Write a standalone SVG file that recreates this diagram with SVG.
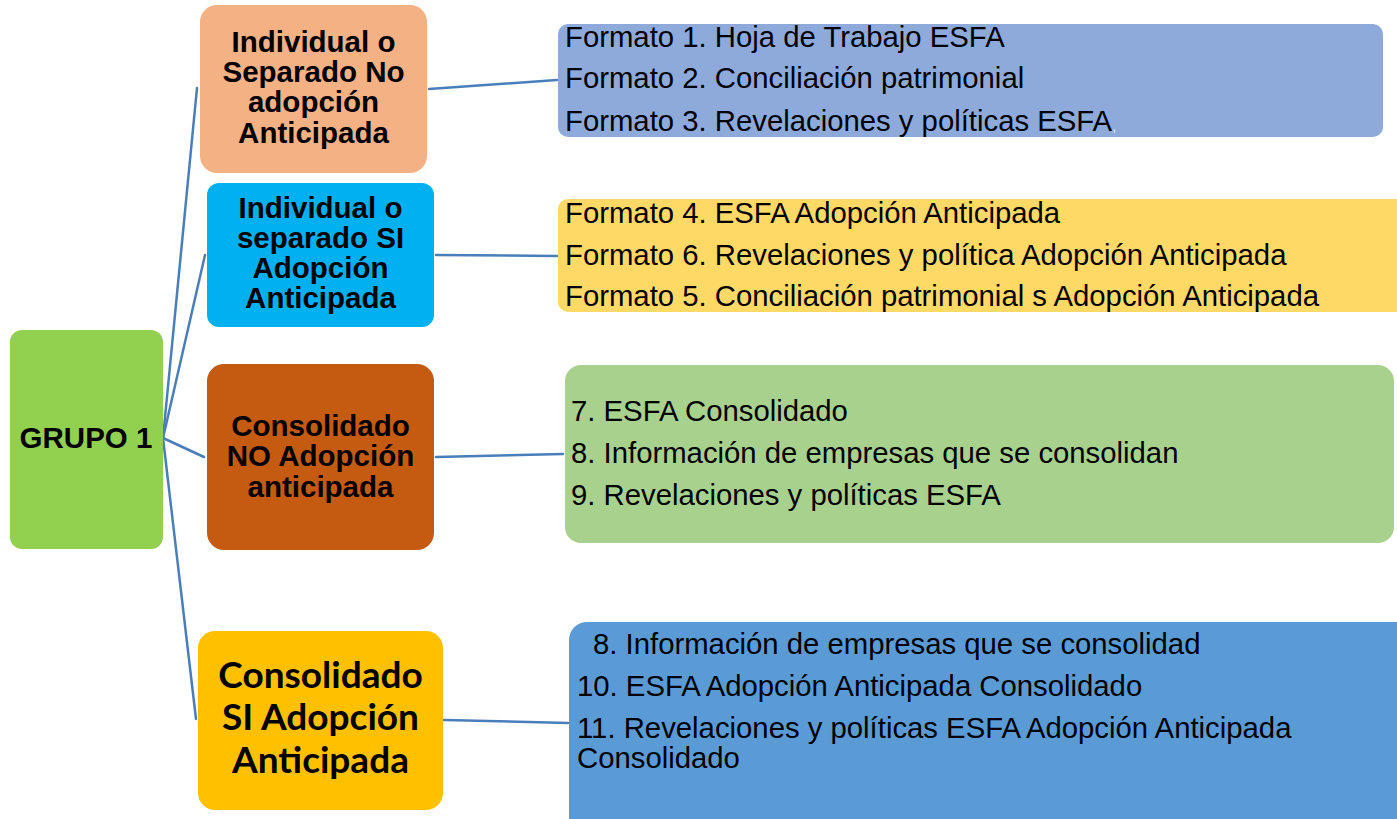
<svg xmlns="http://www.w3.org/2000/svg" width="1397" height="819" viewBox="0 0 1397 819">
<style>
.hb{font-family:"Liberation Sans",Arial,sans-serif;font-weight:bold;font-size:29.5px;fill:#000;text-anchor:middle}
.cb{font-family:Lato,"Noto Sans",sans-serif;font-weight:bold;font-size:37px;fill:#000;text-anchor:middle}
.t{font-family:"Liberation Sans",Arial,sans-serif;font-size:29.3px;fill:#000}
.ln{stroke:#4A7EBB;stroke-width:2.5;fill:none;stroke-linecap:round}
</style>
<rect width="1397" height="819" fill="#ffffff"/>
<g id="connectors">
<line class="ln" x1="163" y1="438" x2="197" y2="88"/>
<line class="ln" x1="163" y1="438" x2="205" y2="255"/>
<line class="ln" x1="163" y1="438" x2="204" y2="457"/>
<line class="ln" x1="163" y1="438" x2="196" y2="719"/>
<line class="ln" x1="429" y1="89" x2="557" y2="80"/>
<line class="ln" x1="436" y1="255" x2="557" y2="256"/>
<line class="ln" x1="436" y1="457" x2="563" y2="454"/>
<line class="ln" x1="444" y1="720" x2="568" y2="723"/>
</g>
<g id="grupo1">
<rect x="10" y="330" width="153" height="219" rx="12" fill="#92D050"/>
<text class="hb" x="86" y="448" font-size="28">GRUPO 1</text>
</g>
<g id="node-individual-no">
<rect x="200" y="5" width="227" height="168" rx="17" fill="#F4B183"/>
<text class="hb" x="313.5" y="52">Individual o</text>
<text class="hb" x="313.5" y="82">Separado No</text>
<text class="hb" x="313.5" y="112">adopción</text>
<text class="hb" x="313.5" y="143">Anticipada</text>
</g>
<g id="node-individual-si">
<rect x="207" y="183" width="227" height="144" rx="12" fill="#00B0F0"/>
<text class="hb" x="320.5" y="218">Individual o</text>
<text class="hb" x="320.5" y="248">separado SI</text>
<text class="hb" x="320.5" y="278">Adopción</text>
<text class="hb" x="320.5" y="308">Anticipada</text>
</g>
<g id="node-consolidado-no">
<rect x="207" y="364" width="227" height="186" rx="17" fill="#C55A11"/>
<text class="hb" x="320.5" y="436">Consolidado</text>
<text class="hb" x="320.5" y="466">NO Adopción</text>
<text class="hb" x="320.5" y="497">anticipada</text>
</g>
<g id="node-consolidado-si">
<rect x="198" y="631" width="245" height="179" rx="17" fill="#FFC000"/>
<text class="cb" x="320.5" y="688">Consolidado</text>
<text class="cb" x="320.5" y="730">SI Adopción</text>
<text class="cb" x="320.5" y="773">Anticipada</text>
</g>
<g id="list-formatos-1-3">
<rect x="558" y="24" width="825" height="113" rx="10" fill="#8EAADB"/>
<text class="t" x="565" y="47">Formato 1. Hoja de Trabajo ESFA</text>
<text class="t" x="565" y="88">Formato 2. Conciliación patrimonial</text>
<text class="t" x="565" y="131">Formato 3. Revelaciones y políticas ESFA<tspan fill="#E4EAF6" font-size="14">,</tspan></text>
</g>
<g id="list-formatos-4-6">
<rect x="558" y="199" width="850" height="113" rx="10" fill="#FFD966"/>
<text class="t" x="565" y="223">Formato 4. ESFA Adopción Anticipada</text>
<text class="t" x="565" y="265">Formato 6. Revelaciones y política Adopción Anticipada</text>
<text class="t" x="565" y="306">Formato 5. Conciliación patrimonial s Adopción Anticipada</text>
</g>
<g id="list-7-9">
<rect x="565" y="365" width="829" height="178" rx="16" fill="#A9D18E"/>
<text class="t" x="571" y="421">7. ESFA Consolidado</text>
<text class="t" x="571" y="463">8. Información de empresas que se consolidan</text>
<text class="t" x="571" y="505">9. Revelaciones y políticas ESFA</text>
</g>
<g id="list-8-11">
<rect x="569" y="622" width="850" height="220" rx="18" fill="#5B9BD5"/>
<text class="t" x="593" y="654">8. Información de empresas que se consolidad</text>
<text class="t" x="577" y="696">10. ESFA Adopción Anticipada Consolidado</text>
<text class="t" x="577" y="738">11. Revelaciones y políticas ESFA Adopción Anticipada</text>
<text class="t" x="577" y="768">Consolidado</text>
</g>
</svg>
